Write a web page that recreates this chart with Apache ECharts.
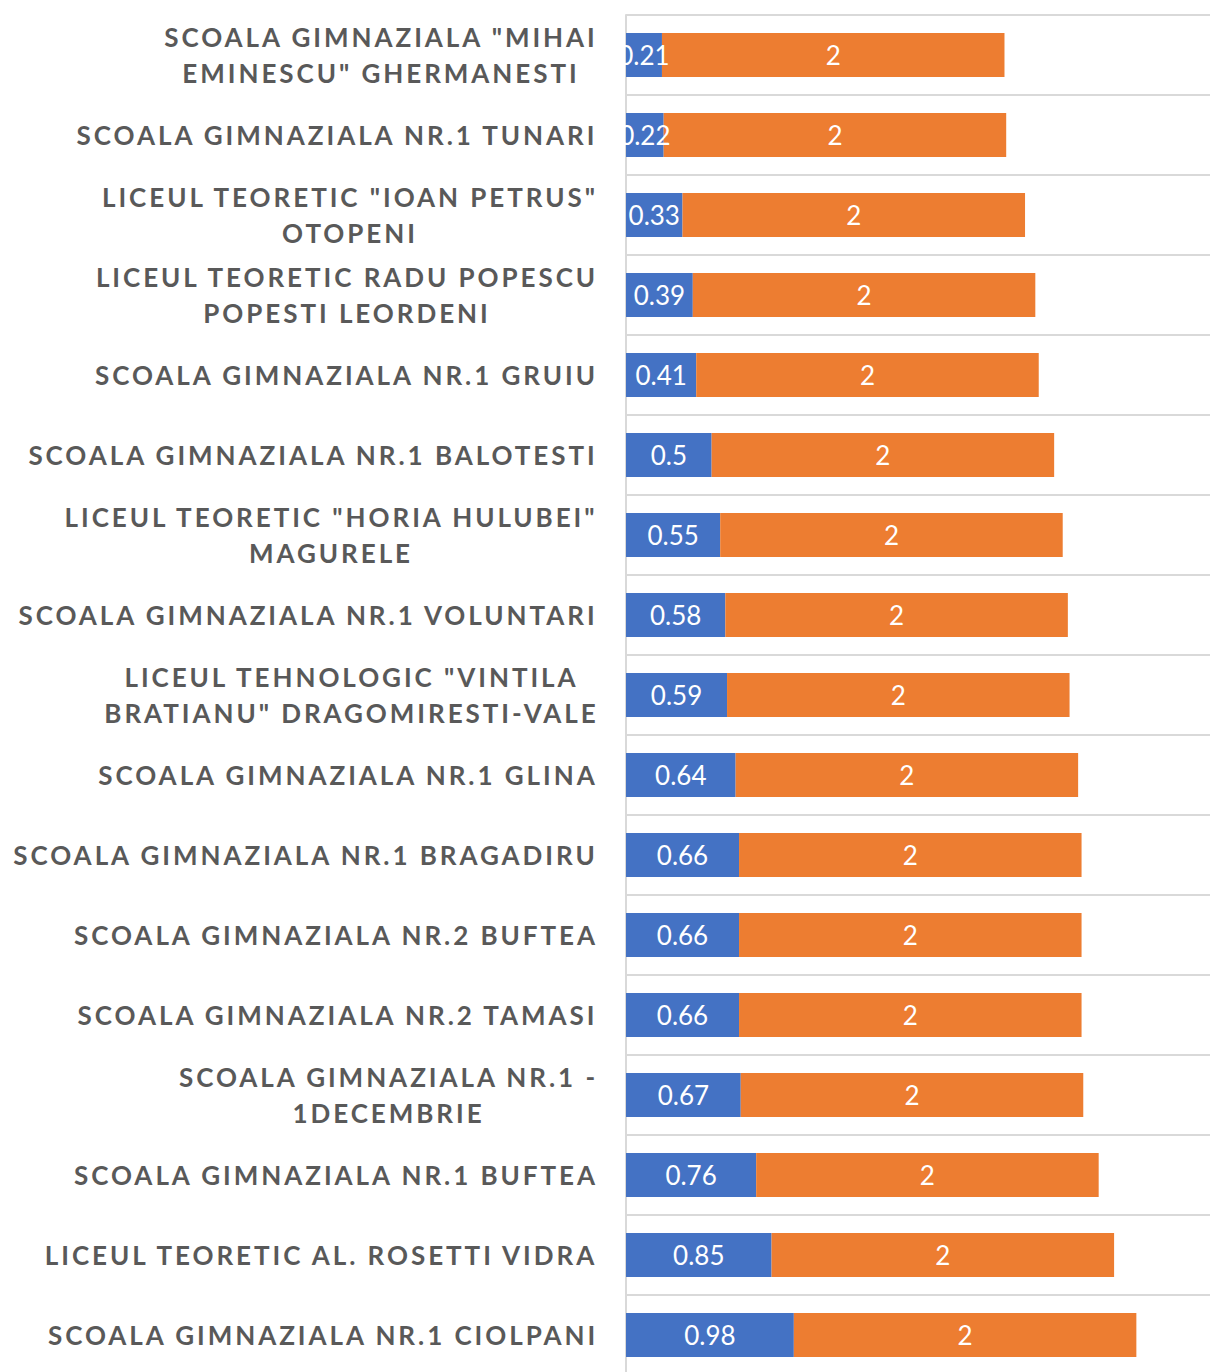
<!DOCTYPE html>
<html>
<head>
<meta charset="utf-8">
<script src="https://cdn.jsdelivr.net/npm/echarts@6/dist/echarts.min.js"></script>
<style>
  html, body { margin: 0; padding: 0; background: #fff; }
  #chart { width: 1210px; height: 1372px; }
  #chart text[fill="#595959"] { letter-spacing: 2.95px; }
</style>
</head>
<body>
<div id="chart"></div>
<script>
const categories = [
  'SCOALA GIMNAZIALA "MIHAI\nEMINESCU" GHERMANESTI',
  'SCOALA GIMNAZIALA NR.1 TUNARI',
  'LICEUL TEORETIC "IOAN PETRUS"\nOTOPENI',
  'LICEUL TEORETIC RADU POPESCU\nPOPESTI LEORDENI',
  'SCOALA GIMNAZIALA NR.1 GRUIU',
  'SCOALA GIMNAZIALA NR.1 BALOTESTI',
  'LICEUL TEORETIC "HORIA HULUBEI"\nMAGURELE',
  'SCOALA GIMNAZIALA NR.1 VOLUNTARI',
  'LICEUL TEHNOLOGIC "VINTILA\nBRATIANU" DRAGOMIRESTI-VALE',
  'SCOALA GIMNAZIALA NR.1 GLINA',
  'SCOALA GIMNAZIALA NR.1 BRAGADIRU',
  'SCOALA GIMNAZIALA NR.2 BUFTEA',
  'SCOALA GIMNAZIALA NR.2 TAMASI',
  'SCOALA GIMNAZIALA NR.1 -\n1DECEMBRIE',
  'SCOALA GIMNAZIALA NR.1 BUFTEA',
  'LICEUL TEORETIC AL. ROSETTI VIDRA',
  'SCOALA GIMNAZIALA NR.1 CIOLPANI'
];
const blueValues = [0.21, 0.22, 0.33, 0.39, 0.41, 0.5, 0.55, 0.58, 0.59, 0.64, 0.66, 0.66, 0.66, 0.67, 0.76, 0.85, 0.98];
const orangeValues = [2, 2, 2, 2, 2, 2, 2, 2, 2, 2, 2, 2, 2, 2, 2, 2, 2];

const LABEL_FONT = 'Lato';
const LABEL_SIZE = 26;
const LETTER_SP = 2.95;
const LABEL_COLOR = '#595959';

const mctx = document.createElement('canvas').getContext('2d');
mctx.font = 'bold ' + LABEL_SIZE + 'px ' + LABEL_FONT;
const rich = {};
categories.forEach(function (c, i) {
  const w = Math.max.apply(null, c.split('\n').map(function (l) {
    return mctx.measureText(l).width + l.length * LETTER_SP;
  }));
  rich['c' + i] = {
    width: Math.ceil(w),
    align: 'center',
    fontFamily: LABEL_FONT,
    fontWeight: 'bold',
    fontSize: LABEL_SIZE,
    lineHeight: 36,
    color: LABEL_COLOR
  };
});

const chart = echarts.init(document.getElementById('chart'), null, { renderer: 'svg' });
const gridColor = '#D9D9D9';
chart.setOption({
  animation: false,
  backgroundColor: '#fff',
  grid: { left: 626, top: 15, width: 584, height: 1360, outerBoundsMode: 'none' },
  xAxis: { type: 'value', min: 0, max: 3.41, show: false },
  yAxis: {
    type: 'category',
    inverse: true,
    data: categories,
    axisLine: { show: true, lineStyle: { color: gridColor, width: 2 } },
    axisTick: { show: false },
    splitLine: { show: true, lineStyle: { color: gridColor, width: 2 } },
    axisLabel: {
      interval: 0,
      margin: 27,
      color: LABEL_COLOR,
      fontFamily: LABEL_FONT,
      fontWeight: 'bold',
      fontSize: LABEL_SIZE,
      lineHeight: 36,
      formatter: function (value, index) {
        return value.split('\n').map(function (l) { return '{c' + index + '|' + l + '}'; }).join('\n');
      },
      rich: rich
    }
  },
  series: [
    {
      type: 'bar', stack: 'total', barWidth: '55%',
      data: blueValues,
      itemStyle: { color: '#4472C4' },
      label: { show: true, position: 'inside', color: '#fff', fontFamily: 'Lato', fontSize: 26 }
    },
    {
      type: 'bar', stack: 'total', barWidth: '55%',
      data: orangeValues,
      itemStyle: { color: '#ED7D31' },
      label: { show: true, position: 'inside', color: '#fff', fontFamily: 'Lato', fontSize: 26 }
    }
  ]
});
</script>
</body>
</html>
